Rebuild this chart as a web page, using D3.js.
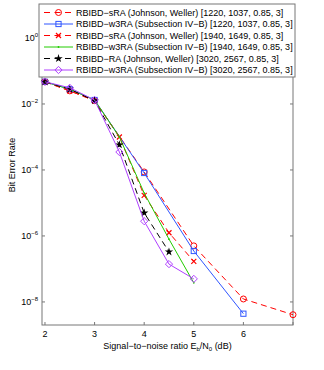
<!DOCTYPE html>
<html lang="en">
<head>
<meta charset="UTF-8">
<title>BER curves</title>
<style>
  body { margin: 0; background: #fff; }
  text { font-family: "Liberation Sans", Arial, Helvetica, sans-serif; fill: #000; }
  .eje line, .eje path { stroke: #777; }
</style>
<script src="https://d3js.org/d3.v7.min.js"></script>
</head>
<body>
<script>
// Datos (SNR en dB, BER)
var snrSra1220 = [2, 2.5, 3, 4, 5, 6, 7];
var berSra1220 = [0.047, 0.025, 0.0126, 8.7e-5, 5e-7, 1.23e-8, 4.1e-9];

var snrW3ra1220 = [2, 2.5, 3, 4, 5, 6];
var berW3ra1220 = [0.047, 0.028, 0.0132, 8.1e-5, 3.5e-7, 4.4e-9];

var snrSra1940 = [2, 2.5, 3, 3.5, 4, 4.5, 5];
var berSra1940 = [0.047, 0.025, 0.0126, 1e-3, 1.7e-5, 1.25e-6, 1.7e-7];

var snrW3ra1940 = [2, 2.5, 3, 3.5, 4, 4.5, 5];
var berW3ra1940 = [0.047, 0.028, 0.0132, 1e-3, 2e-5, 8e-7, 3.8e-8];

var snrRa3020 = [2, 2.5, 3, 3.5, 4, 4.5];
var berRa3020 = [0.047, 0.028, 0.0126, 5.8e-4, 5e-6, 3.3e-7];

var snrW3ra3020 = [2, 2.5, 3, 3.5, 4, 4.5, 5];
var berW3ra3020 = [0.047, 0.031, 0.0132, 3.5e-4, 2.8e-6, 1.4e-7, 5e-8];

var etiquetas = [
  "RBIBD\u2212sRA (Johnson, Weller) [1220, 1037, 0.85, 3]",
  "RBIBD\u2212w3RA (Subsection IV\u2212B) [1220, 1037, 0.85, 3]",
  "RBIBD\u2212sRA (Johnson, Weller) [1940, 1649, 0.85, 3]",
  "RBIBD\u2212w3RA (Subsection IV\u2212B) [1940, 1649, 0.85, 3]",
  "RBIBD\u2212RA (Johnson, Weller) [3020, 2567, 0.85, 3]",
  "RBIBD\u2212w3RA (Subsection IV\u2212B) [3020, 2567, 0.85, 3]"
];

var ticksX = [2, 3, 4, 5, 6, 7];
var etiquetasX = ["2", "3", "4", "5", "6", ""];
var ticksY = [1, 1e-2, 1e-4, 1e-6, 1e-8];
var expY = ["0", "\u22122", "\u22124", "\u22126", "\u22128"];

// Estilo de cada serie
var series = [
  {x: snrSra1220, y: berSra1220, color: "#ff0000", dash: "6,4", marca: "circulo"},
  {x: snrW3ra1220, y: berW3ra1220, color: "#2f55ff", dash: null, marca: "cuadrado"},
  {x: snrSra1940, y: berSra1940, color: "#ff0000", dash: "6,4", marca: "cruz"},
  {x: snrW3ra1940, y: berW3ra1940, color: "#22cc00", dash: null, marca: "punto"},
  {x: snrRa3020, y: berRa3020, color: "#000000", dash: "6,4", marca: "estrella"},
  {x: snrW3ra3020, y: berW3ra3020, color: "#b040ff", dash: null, marca: "diamante"}
];

var ancho_svg = 324, alto_svg = 370;
var izq = 42, dch = 293, sup = 5, inf = 325;

var escala_x = d3.scaleLinear().domain([1.94, 7]).range([izq, dch]);
var escala_y = d3.scaleLog().domain([2e-9, 10]).range([inf, sup]);

var svg = d3.select("body").append("svg")
  .attr("width", ancho_svg)
  .attr("height", alto_svg);

// Caja de ejes
svg.append("rect")
  .attr("x", izq).attr("y", sup)
  .attr("width", dch - izq).attr("height", inf - sup)
  .attr("fill", "none").attr("stroke", "#777");

// Marcas de los ejes
var ejes = svg.append("g").attr("class", "eje");
ejes.selectAll(".tx").data(ticksX).enter().append("line")
  .attr("x1", function(d) { return escala_x(d); })
  .attr("x2", function(d) { return escala_x(d); })
  .attr("y1", inf).attr("y2", inf - 3);
ejes.selectAll(".tyl").data(ticksY).enter().append("line")
  .attr("x1", izq).attr("x2", izq + 3)
  .attr("y1", function(d) { return escala_y(d); })
  .attr("y2", function(d) { return escala_y(d); });
ejes.selectAll(".tyr").data(ticksY).enter().append("line")
  .attr("x1", dch).attr("x2", dch - 3)
  .attr("y1", function(d) { return escala_y(d); })
  .attr("y2", function(d) { return escala_y(d); });

svg.selectAll(".lx").data(ticksX).enter().append("text")
  .attr("x", function(d) { return escala_x(d); })
  .attr("y", inf + 12)
  .attr("text-anchor", "middle")
  .style("font-size", "9px")
  .text(function(d, i) { return etiquetasX[i]; });

var ly = svg.selectAll(".ly").data(ticksY).enter().append("text")
  .attr("x", 38)
  .attr("y", function(d) { return escala_y(d) + 3; })
  .attr("text-anchor", "end")
  .style("font-size", "9px");
ly.append("tspan").text("10");
ly.append("tspan").attr("dy", -4).style("font-size", "6px")
  .text(function(d, i) { return expY[i]; });

// Titulos de los ejes
svg.append("text")
  .attr("transform", "translate(15," + ((sup + inf) / 2) + ") rotate(-90)")
  .attr("text-anchor", "middle")
  .style("font-size", "9px")
  .text("Bit Error Rate");

var tx = svg.append("text")
  .attr("x", (izq + dch) / 2).attr("y", 349)
  .attr("text-anchor", "middle")
  .style("font-size", "9px");
tx.append("tspan").text("Signal\u2212to\u2212noise ratio E");
tx.append("tspan").attr("dy", 2).style("font-size", "6px").text("b");
tx.append("tspan").attr("dy", -2).text("/N");
tx.append("tspan").attr("dy", 2).style("font-size", "6px").text("0");
tx.append("tspan").attr("dy", -2).text(" (dB)");

// Marcadores
function dibujaMarca(g, tipo, color) {
  if (tipo === "circulo") {
    g.append("circle").attr("r", 3).attr("fill", "none").attr("stroke", color);
  } else if (tipo === "cuadrado") {
    g.append("rect").attr("x", -2.6).attr("y", -2.6).attr("width", 5.2).attr("height", 5.2)
      .attr("fill", "none").attr("stroke", color);
  } else if (tipo === "cruz") {
    g.append("path").attr("d", d3.symbol(d3.symbolTimes, 18)())
      .attr("fill", "none").attr("stroke", color).attr("stroke-width", 1.2);
  } else if (tipo === "punto") {
    g.append("circle").attr("r", 0.9).attr("fill", color);
  } else if (tipo === "estrella") {
    g.append("path").attr("d", d3.symbol(d3.symbolStar, 22)()).attr("fill", color);
  } else if (tipo === "diamante") {
    g.append("path").attr("d", "M0,-3.6L3.6,0L0,3.6L-3.6,0Z")
      .attr("fill", "none").attr("stroke", color);
  }
}

var linea = d3.line()
  .x(function(d) { return escala_x(d[0]); })
  .y(function(d) { return escala_y(d[1]); });

series.forEach(function(s) {
  var puntos = s.x.map(function(v, i) { return [v, s.y[i]]; });
  svg.append("path")
    .datum(puntos)
    .attr("d", linea)
    .attr("fill", "none")
    .attr("stroke", s.color)
    .attr("stroke-width", 1)
    .attr("stroke-dasharray", s.dash);
  puntos.forEach(function(p) {
    var g = svg.append("g")
      .attr("transform", "translate(" + escala_x(p[0]) + "," + escala_y(p[1]) + ")");
    dibujaMarca(g, s.marca, s.color);
  });
});

// Leyenda
var leyenda = svg.append("g");
leyenda.append("rect")
  .attr("x", 39).attr("y", 4).attr("width", 256).attr("height", 73)
  .attr("fill", "#fff").attr("stroke", "#777");

series.forEach(function(s, i) {
  var y = 12.5 + i * 11.5;
  leyenda.append("line")
    .attr("x1", 44).attr("x2", 73).attr("y1", y).attr("y2", y)
    .attr("stroke", s.color)
    .attr("stroke-dasharray", s.dash ? "6,4.5" : null);
  var g = leyenda.append("g").attr("transform", "translate(58.5," + y + ")");
  dibujaMarca(g, s.marca, s.color);
  leyenda.append("text")
    .attr("x", 76).attr("y", y + 3.2)
    .style("font-size", "9px")
    .text(etiquetas[i]);
});
</script>
</body>
</html>
